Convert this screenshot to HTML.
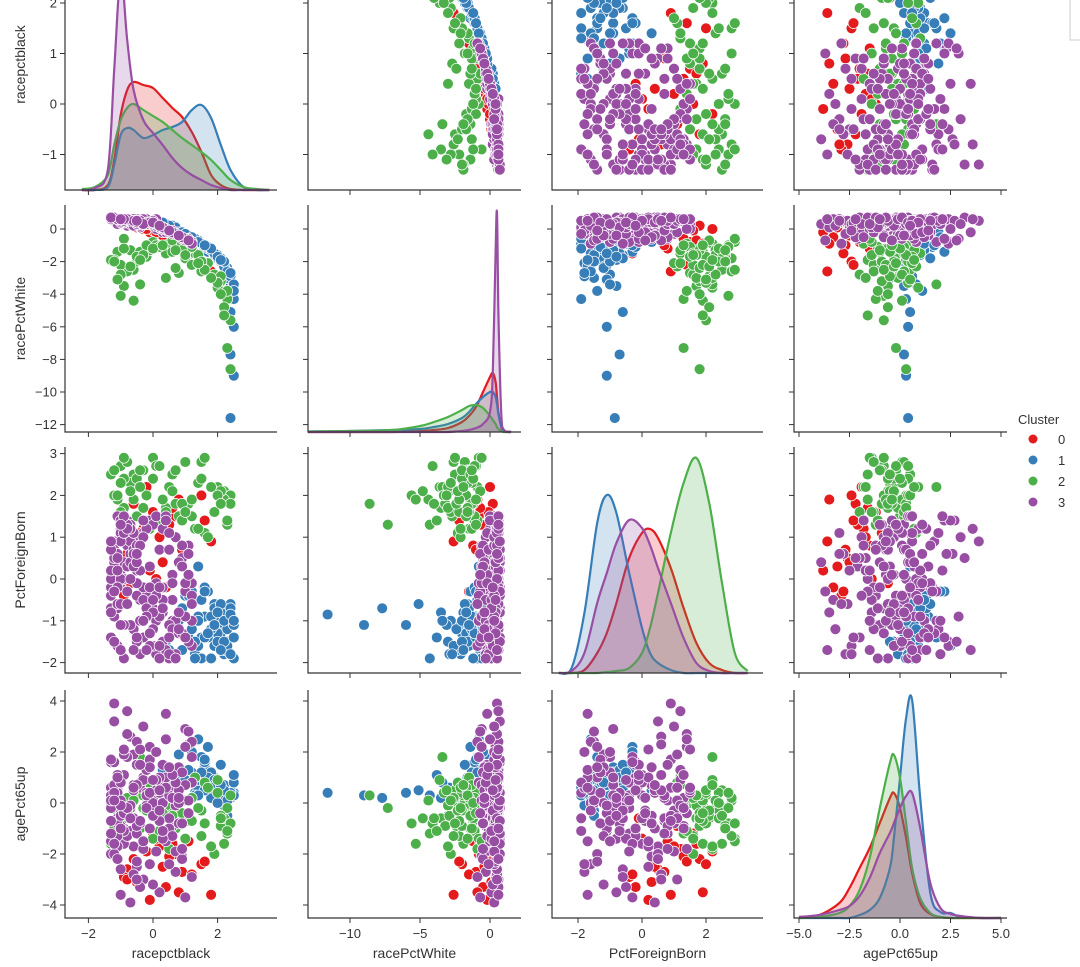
<!DOCTYPE html>
<html><head><meta charset="utf-8"><style>
html,body{margin:0;padding:0;background:#fff;}
svg{display:block;font-family:"Liberation Sans","DejaVu Sans",sans-serif;}
</style></head><body>
<svg id="chart" width="1080" height="967" viewBox="0 0 1080 967" xmlns="http://www.w3.org/2000/svg">
<rect x="1070" y="-2" width="20" height="42" fill="#fff" stroke="#ccc"/>
<g id="layer"></g>
</svg>
<script>
// ---- data ----
const varNames = ["racepctblack","racePctWhite","PctForeignBorn","agePct65up"];
const clusterLabels = ["0","1","2","3"];
const clusterColors = ["#e41a1c","#377eb8","#4daf4a","#984ea3"];

const c0_black = [-0.8,-0.3,0.4,-0.6,1.1,-0.1,0.7,-0.9,0.2,1.5,-0.5,0.0,0.9,-0.7,0.5,1.8,-0.2,0.3,-0.4,1.2,0.6,-0.8,1.6,0.1,0.8];
const c0_white = [0.3,0.0,-0.5,0.2,-1.2,-0.2,-0.8,0.4,-0.3,-2.0,0.1,-0.1,-1.0,0.3,-0.6,-2.6,0.0,-0.4,0.1,-1.5,-0.7,0.4,-2.2,-0.2,-0.9];
const c0_foreign = [0.5,1.2,-0.2,1.8,0.8,0.2,1.5,-0.4,1.0,2.0,0.3,1.6,0.7,-0.1,1.3,0.9,2.2,0.4,1.1,-0.3,1.7,0.6,1.4,0.0,1.9];
const c0_age = [-2.6,-1.8,-3.3,-2.2,-1.5,-3.8,-2.0,-2.9,-1.7,-2.4,-3.1,-1.2,-2.7,-0.6,-2.1,-3.6,-1.9,-2.5,-0.9,-2.8,-1.6,-3.0,-2.3,-1.4,-3.5];

const c1_black = [1.8,2.3,1.2,0.6,2.0,1.5,2.4,0.9,1.7,2.2,1.3,1.9,0.4,2.1,1.6,2.5,1.0,1.4,2.3,0.7,1.9,2.2,1.1,1.6,2.4,0.5,1.8,2.0,1.3,2.4,0.8,1.5,2.1,1.7,2.3,1.2,2.5,1.9,0.3,1.4,2.2,2.4,2.5,2.4,2.3,
  2.0,1.4,2.4,1.1,1.8,2.2,0.9,1.6,2.5,1.3,2.1,1.7,2.3,1.0,1.9,2.4,1.5,2.2,1.2,2.0,1.8,2.5,1.4,2.1,1.6];
const c1_white = [-1.2,-2.5,-0.6,0.2,-1.8,-0.9,-3.5,-0.3,-1.4,-2.2,-0.7,-1.6,0.3,-2.0,-1.0,-4.3,-0.5,-0.8,-2.8,0.1,-1.5,-2.1,-0.4,-1.1,-3.1,0.2,-1.3,-1.7,-0.6,-5.1,-0.2,-0.9,-1.9,-1.2,-2.4,-0.5,-6.0,-1.5,0.4,-0.8,-2.0,-7.7,-9.0,-11.6,-3.0,
  -1.6,-0.7,-2.9,-0.4,-1.3,-2.3,-0.2,-1.0,-3.4,-0.6,-1.8,-1.1,-2.6,-0.3,-1.5,-2.7,-0.9,-2.0,-0.5,-1.7,-1.2,-3.8,-0.8,-1.9,-1.0];
const c1_foreign = [-1.2,-1.6,-0.5,-1.9,-1.0,-1.4,-0.8,-1.7,-0.3,-1.1,-1.8,-0.6,-1.5,-1.3,-0.9,-1.9,-0.4,-1.6,-1.0,-1.2,-0.7,-1.8,-1.4,-0.2,-1.1,-1.7,-0.9,-1.3,-1.5,-0.6,-1.0,-1.9,-0.8,-1.4,-1.2,-0.3,-1.1,-1.6,-0.7,0.3,-1.0,-0.7,-1.1,-0.85,-1.5,
  -1.5,-0.9,-1.8,-0.4,-1.2,-1.7,-0.7,-1.4,-1.0,-1.9,-0.6,-1.3,-1.6,-0.9,-1.1,-1.8,-0.5,-1.5,-1.2,-0.8,-1.9,-1.4,-1.0,-1.7,-0.3];
const c1_age = [0.6,0.3,1.2,0.8,0.5,1.8,0.2,0.9,2.2,0.7,0.4,1.0,-0.3,0.6,1.4,0.3,0.8,2.5,0.5,1.1,0.7,-0.1,0.9,1.6,0.4,0.6,1.2,0.2,0.8,0.5,1.9,0.7,0.3,1.0,0.6,2.0,0.4,0.9,1.3,0.5,0.1,0.2,0.3,0.4,-0.5,
  0.4,0.9,0.6,1.3,0.2,0.7,1.0,0.5,0.8,0.3,1.5,0.6,0.1,0.9,0.7,0.4,1.2,0.5,0.8,0.0,0.6,1.1,0.3,0.7,1.7];

const c2_black = [-1.1,-0.6,0.2,1.0,-0.9,0.5,1.6,-0.3,2.1,-1.2,0.0,0.8,-0.7,1.3,-1.0,0.3,1.9,-0.5,0.6,2.3,-0.8,1.1,-0.2,1.7,-1.3,0.4,2.0,-0.4,0.9,-0.6,1.4,-1.0,0.1,2.2,-0.1,0.7,1.5,-0.9,1.2,2.4,-0.4,2.3,2.2,2.4,2.1,
  -0.9,0.4,1.5,-0.2,2.0,-1.2,0.9,1.8,-0.5,0.2,1.2,-1.0,2.3,0.6,-0.3,1.6,-0.7,1.0,0.0,2.1,-1.1,0.7,1.4,-0.4,0.3];
const c2_white = [-1.4,-2.5,-1.1,-1.8,-3.5,-0.9,-2.3,-1.6,-3.2,-1.9,-0.8,-2.7,-1.3,-1.5,-4.1,-1.0,-2.8,-2.0,-0.7,-4.3,-2.6,-1.2,-1.7,-2.1,-1.9,-3.0,-3.6,-1.4,-0.9,-4.4,-1.6,-2.2,-1.0,-4.8,-1.3,-2.4,-2.0,-0.6,-1.1,-5.6,-3.4,-7.3,-5.3,-8.6,-2.9,
  -1.2,-1.5,-2.6,-1.0,-3.3,-2.0,-1.3,-3.0,-1.7,-1.1,-2.2,-2.8,-3.8,-1.4,-1.6,-2.5,-2.3,-1.6,-1.2,-4.0,-3.1,-1.3,-2.1,-1.9,-1.0];
const c2_foreign = [1.9,2.5,1.4,2.8,1.7,2.2,1.1,2.6,1.8,2.0,2.9,1.5,2.3,1.2,2.7,1.9,1.6,2.4,2.1,1.3,2.8,1.8,2.0,1.0,2.5,1.7,2.2,2.6,1.4,1.9,2.3,1.6,2.7,2.1,1.2,1.8,2.4,2.9,1.5,2.0,2.2,1.3,1.9,1.8,2.1,
  2.4,1.6,2.8,1.3,2.0,2.6,1.8,2.2,1.5,2.7,1.9,2.3,1.4,2.5,1.7,2.9,2.1,1.6,2.4,1.8,2.0,2.6,1.2,2.2,1.9];
const c2_age = [-0.3,0.5,-1.1,0.1,-0.6,-1.8,0.8,-0.2,-0.9,0.3,-1.4,0.0,-0.5,1.0,-0.8,-0.1,-2.0,0.4,-0.4,-1.2,0.2,-0.7,-0.3,0.6,-1.6,-0.1,0.9,-1.0,-0.4,0.1,-0.2,-1.3,0.4,-0.6,0.7,-0.9,-0.3,-1.5,0.2,-0.8,1.8,-0.2,-1.6,0.3,-0.5,
  -0.6,0.2,-1.3,-0.1,0.4,-0.9,-0.4,-1.7,0.6,-0.2,-0.7,0.1,-1.1,-0.5,0.3,-0.8,-0.3,-1.4,0.0,-0.6,0.5,-1.0,-0.2,0.7,-0.4];

const c3_black = [-1.2,-0.8,0.3,-1.0,-0.4,0.9,-1.3,-0.1,0.6,-0.9,-0.6,-1.1,0.1,1.2,-0.3,-1.0,0.5,-0.7,-1.2,0.0,0.8,-0.5,-1.3,-0.2,0.4,-0.9,-1.1,1.0,-0.6,0.2,-1.0,-0.3,0.7,-1.2,-0.8,0.1,-0.4,1.1,-1.3,-0.7,0.3,-1.1,-0.5,0.9,-0.2,-1.0,0.6,-0.9,-1.2,0.0,-0.8,0.5,-1.3,-0.1,-0.6,1.2,-1.0,0.2,-0.4,-1.1,0.8,-0.7,-1.2,0.4,-0.3,-0.9,1.0,-0.5,0.1,-1.3,-0.6,0.7,-1.0,-0.2,0.3,-1.1,-0.8,0.9,-0.4,-1.2,0.0,-0.9,0.5,-1.3,-0.1,1.1,-0.7,-0.3,0.6,-1.0,-0.5,0.2,-1.2,0.8,-0.8,-0.2,0.4,-1.1,1.2,-0.6,
  -1.0,-0.2,0.6,-1.3,0.1,-0.7,1.0,-0.5,-1.1,0.3,-0.9,0.8,-0.4,-1.2,0.0,0.5,-0.8,1.2,-0.3,-1.0,0.2,-0.6,-1.3,0.7,-0.1,-0.9,0.4,-1.1,1.1,-0.5,-0.2,-1.2,0.9,-0.7,0.1,-1.0,0.6,-0.4,-1.3,0.3,-0.8,1.0,-0.1,-0.6,0.5,-1.1,0.0,-0.3,0.8,-1.2,-0.5,0.2,-0.9,1.2,-0.2,-1.3,0.7,-0.7,0.4,-1.0,0.1,-0.4,-1.2,0.9,-0.8,0.3,-0.1,-1.1,0.6,-0.6,1.1,-0.9,-0.3,0.0,-1.3,0.5,-0.5,0.8,-1.0,0.2];
const c3_white = [0.6,0.3,-0.2,0.5,0.1,-0.6,0.7,0.4,-0.3,0.6,0.2,0.5,0.0,-0.8,0.6,0.4,-0.1,0.3,0.7,0.5,-0.4,0.2,0.6,0.4,-0.2,0.5,0.3,-0.7,0.6,0.1,0.4,0.6,-0.3,0.5,0.2,0.4,0.6,-0.6,0.7,0.3,0.0,0.5,0.6,-0.5,0.3,0.6,-0.1,0.4,0.5,0.2,0.6,-0.2,0.7,0.3,0.5,-0.8,0.4,0.1,0.6,0.5,-0.4,0.3,0.6,0.0,0.5,0.4,-0.6,0.2,0.6,0.7,0.4,-0.3,0.5,0.6,0.1,0.3,0.6,-0.5,0.2,0.7,0.5,0.4,-0.1,0.6,0.3,-0.7,0.5,0.6,-0.2,0.4,0.6,0.1,0.7,-0.4,0.5,0.3,0.0,0.6,-0.8,0.2,
  0.5,0.4,-0.3,0.7,0.3,0.5,-0.6,0.4,0.6,0.1,0.5,-0.4,0.3,0.7,0.2,-0.1,0.6,-0.9,0.4,0.5,0.2,0.6,0.7,-0.3,0.4,0.5,0.0,0.6,-0.7,0.3,0.4,0.7,-0.5,0.5,0.2,0.6,-0.2,0.4,0.7,0.1,0.6,-0.6,0.3,0.5,-0.1,0.6,0.4,0.3,-0.4,0.7,0.4,0.2,0.5,-0.9,0.3,0.7,-0.3,0.5,0.0,0.6,0.3,0.5,0.7,-0.5,0.6,0.1,0.4,0.6,-0.2,0.5,-0.7,0.6,0.3,0.4,0.7,-0.1,0.5,-0.4,0.6,0.2];
const c3_foreign = [-1.5,0.8,-0.2,1.2,-1.8,0.3,-0.7,1.4,-1.1,0.0,0.5,-1.6,-0.4,-1.0,1.1,-0.1,-1.9,0.6,-0.8,1.3,-1.3,0.2,0.9,-0.6,-1.7,0.4,1.5,-0.3,-1.2,0.7,0.1,-1.4,1.0,-0.9,0.3,-1.8,-0.5,0.8,-0.2,-1.1,1.2,-0.7,-1.5,0.5,-0.4,1.4,-1.0,0.0,0.9,-1.6,-0.3,1.1,-0.8,-1.3,0.6,-0.1,1.3,-1.9,0.2,-0.6,-1.2,0.4,0.7,-1.7,-0.2,1.0,-0.9,-0.4,1.5,-1.4,0.3,-1.0,-0.6,1.2,-1.5,0.1,-0.3,0.8,-1.8,0.5,-0.7,1.3,-1.1,0.0,-1.6,0.6,0.9,-0.5,-1.2,1.1,-0.1,-0.8,0.4,-1.3,1.4,-0.9,-1.7,0.2,-0.4,0.7,
  0.9,-1.7,-0.5,0.2,-1.0,1.3,-0.1,-1.4,0.6,-0.8,-1.9,0.4,1.0,-0.3,-1.2,0.7,-0.6,-1.6,1.4,0.0,-0.9,1.1,-0.4,-1.8,0.3,-1.1,1.5,-0.2,-1.5,0.8,-0.7,0.5,-1.3,1.2,-0.1,-1.7,0.1,-1.0,0.9,-0.5,1.3,-1.4,-0.2,0.6,-1.8,0.2,-0.8,1.0,-1.2,-0.3,0.4,-1.6,1.1,-0.6,-0.9,0.7,-1.9,0.0,1.4,-1.1,-0.4,0.8,-1.5,0.3,1.2,-0.7,-1.3,0.5,-0.1,-1.7,0.1,1.5,-1.0,-0.5,0.9,-1.4,0.6,-0.8,1.3,-0.2];
const c3_age = [0.3,-1.2,1.5,-0.4,0.8,-2.1,0.0,2.2,-0.9,1.1,-1.7,0.5,-0.2,1.8,-3.0,0.9,-0.6,2.6,-1.4,0.2,1.3,-2.5,0.6,-0.1,3.5,-1.0,0.4,-3.7,1.9,-0.7,-0.3,1.0,-1.9,0.7,-0.5,2.0,-3.3,0.1,1.6,-1.1,0.9,-0.8,2.4,-2.2,0.3,-0.4,1.2,-1.6,3.9,0.0,-1.3,0.6,-0.2,1.7,-2.8,0.8,-0.9,0.4,2.1,-0.6,1.4,-3.9,0.2,-1.5,1.0,-0.3,2.9,-1.2,0.5,-2.0,0.7,-0.1,-2.6,1.3,0.0,-0.7,1.8,-1.8,0.6,3.2,-0.4,1.1,-1.0,0.3,-2.4,2.3,-0.5,0.9,-1.3,0.1,1.5,-3.5,0.4,-0.8,2.7,-0.2,1.0,-1.7,0.8,-0.6,
  -0.5,1.3,0.2,-1.5,2.0,-0.2,0.7,-2.3,1.1,0.0,-1.1,0.5,-0.8,1.6,-3.2,0.3,-0.3,2.4,-1.8,0.8,1.0,-0.6,0.1,-2.7,1.4,-0.4,0.6,-1.3,2.8,-0.9,0.4,-2.0,1.2,-0.1,0.9,-3.6,0.2,-0.7,1.7,-1.4,-0.2,2.2,-1.0,0.5,-2.4,1.0,-0.5,3.0,0.0,-1.6,0.7,-0.3,1.9,-2.9,0.3,-1.2,0.8,-0.6,2.5,-0.1,-1.9,1.5,0.1,-0.8,3.6,-1.1,0.4,-2.2,1.1,0.6,-0.4,2.1,-1.5,0.9,-0.7,1.4,-3.0,0.2,-1.0,0.5];

// KDE curves (density heights, arbitrary units) on the diagonal
const kde_black_x = [-2.2,-1.8,-1.4,-1.2,-1.0,-0.8,-0.6,-0.3,0,0.3,0.6,0.9,1.2,1.5,1.8,2.1,2.4,2.8,3.2,3.6];
const kde_black_c0 = [0,0,5,30,75,100,108,105,102,92,82,73,58,38,15,5,1,0,0,0];
const kde_black_c1 = [0,0,3,25,55,62,60,52,55,60,63,68,80,85,72,45,20,3,0,0];
const kde_black_c2 = [1,3,15,45,70,82,86,80,74,68,60,52,45,38,30,20,10,3,1,0];
const kde_black_c3 = [0,2,20,120,215,150,100,70,57,45,32,22,15,10,5,2,0,0,0,0];

const kde_white_x = [-13,-10,-7,-5,-4,-3,-2,-1.5,-1,-0.5,0,0.2,0.4,0.5,0.6,0.8,1.0,1.5];
const kde_white_c0 = [0,0,0,1,2,4,10,16,25,40,55,59,50,35,20,5,1,0];
const kde_white_c1 = [0.5,1,2,3,5,8,14,20,28,35,40,40,35,28,18,6,1,0];
const kde_white_c2 = [0.5,1,2,6,10,15,22,26,27,24,16,12,8,5,3,1,0,0];
const kde_white_c3 = [0,0,0,0,0,0,1,2,4,8,20,60,180,219,120,20,2,0];

const kde_foreign_x = [-2.6,-2.2,-1.8,-1.4,-1.1,-0.8,-0.4,0,0.25,0.5,0.9,1.3,1.7,2.1,2.5,2.9,3.3];
const kde_foreign_c0 = [0,0,3,20,40,70,115,140,144,135,105,65,30,10,3,0,0];
const kde_foreign_c1 = [0,5,60,150,178,160,100,45,20,10,3,0,0,0,0,0,0];
const kde_foreign_c2 = [0,0,0,0,1,2,5,20,45,80,140,190,215,170,90,20,2];
const kde_foreign_c3 = [0,2,20,70,100,130,153,145,128,105,70,35,10,2,0,0,0];

const kde_age_x = [-5,-4,-3,-2.5,-2,-1.5,-1,-0.5,-0.3,0,0.3,0.6,1,1.5,2,2.5,3,4,5];
const kde_age_c0 = [1,3,15,30,50,70,95,120,125,110,80,45,15,4,1,0,0,0,0];
const kde_age_c1 = [0,0,0,0,3,8,20,50,80,140,200,218,120,25,6,5,1,0,0];
const kde_age_c2 = [0,1,5,12,28,60,110,155,163,140,95,50,20,5,1,0,0,0,0];
const kde_age_c3 = [1,3,8,12,22,40,65,85,95,110,122,125,90,35,10,4,2,0,0];

const xTicks = [[-2,0,2],[-10,-5,0],[-2,0,2],[-5,-2.5,0,2.5,5]];
const xTickLabels = [["−2","0","2"],["−10","−5","0"],["−2","0","2"],["−5.0","−2.5","0.0","2.5","5.0"]];
const yTicks = [[-1,0,1,2],[-12,-10,-8,-6,-4,-2,0],[-2,-1,0,1,2,3],[-4,-2,0,2,4]];
const yTickLabels = [["−1","0","1","2"],["−12","−10","−8","−6","−4","−2","0"],["−2","−1","0","1","2","3"],["−4","−2","0","2","4"]];

// ---- layout ----
const cols = [{o:153,s:32.3,l:65,r:277},{o:490,s:14,l:308,r:521},{o:642,s:32,l:552,r:763},{o:900,s:20.2,l:794,r:1007}];
const rows = [{o:104,s:50.5,t:-37,b:190},{o:229,s:16.3,t:205,b:432},{o:579,s:41.8,t:447,b:673},{o:803,s:25.5,t:690,b:918}];
const X = (c,v)=>cols[c].o + v*cols[c].s;
const Y = (r,v)=>rows[r].o - v*rows[r].s;

const clusters = [
  [c0_black,c0_white,c0_foreign,c0_age],
  [c1_black,c1_white,c1_foreign,c1_age],
  [c2_black,c2_white,c2_foreign,c2_age],
  [c3_black,c3_white,c3_foreign,c3_age]
];
const kdeX = [kde_black_x,kde_white_x,kde_foreign_x,kde_age_x];
const kdeY = [
  [kde_black_c0,kde_black_c1,kde_black_c2,kde_black_c3],
  [kde_white_c0,kde_white_c1,kde_white_c2,kde_white_c3],
  [kde_foreign_c0,kde_foreign_c1,kde_foreign_c2,kde_foreign_c3],
  [kde_age_c0,kde_age_c1,kde_age_c2,kde_age_c3]
];

const NS = "http://www.w3.org/2000/svg";
const layer = document.getElementById("layer");
function mk(tag, attrs, parent){
  const e = document.createElementNS(NS, tag);
  for (const k in attrs) e.setAttribute(k, attrs[k]);
  (parent||layer).appendChild(e);
  return e;
}
function smoothPath(pts){
  let d = "M"+pts[0][0].toFixed(1)+","+pts[0][1].toFixed(1);
  for (let i=0;i<pts.length-1;i++){
    const p0 = pts[Math.max(0,i-1)], p1 = pts[i], p2 = pts[i+1], p3 = pts[Math.min(pts.length-1,i+2)];
    const c1x = p1[0]+(p2[0]-p0[0])/6, c1y = p1[1]+(p2[1]-p0[1])/6;
    const c2x = p2[0]-(p3[0]-p1[0])/6, c2y = p2[1]-(p3[1]-p1[1])/6;
    d += " C"+c1x.toFixed(1)+","+Math.min(c1y,rows[3].b+999).toFixed(1)+" "+c2x.toFixed(1)+","+c2y.toFixed(1)+" "+p2[0].toFixed(1)+","+p2[1].toFixed(1);
  }
  return d;
}
const shortNames = ["black","white","foreign","age"];

for (let r=0;r<4;r++){
  for (let c=0;c<4;c++){
    const g = mk("g",{});
    
    
    if (r===c){
      const xs = kdeX[c];
      for (let k=0;k<4;k++){
        const ys = kdeY[r][k];
        const pts = xs.map((x,i)=>[X(c,x), Math.min(rows[r].b, rows[r].b - ys[i])]);
        const line = smoothPath(pts);
        const d = line + " L"+pts[pts.length-1][0].toFixed(1)+","+rows[r].b+" L"+pts[0][0].toFixed(1)+","+rows[r].b+" Z";
        const a = mk("path",{d:d,fill:clusterColors[k],"fill-opacity":0.22,stroke:"none"},g);
        
        
        const l = mk("path",{d:line,fill:"none",stroke:clusterColors[k],"stroke-width":2.2,"stroke-linejoin":"round"},g);
        
        
      }
    } else {
      for (let k=0;k<4;k++){
        const xv = clusters[k][c], yv = clusters[k][r];
        for (let i=0;i<xv.length;i++){
          const p = mk("circle",{cx:X(c,xv[i]).toFixed(1),cy:Y(r,yv[i]).toFixed(1),r:5.4,fill:clusterColors[k],stroke:"#fff","stroke-width":0.7},g);
          
          
        }
      }
    }
    const sp = mk("path",{d:"M"+cols[c].l+","+rows[r].t+" V"+rows[r].b+" H"+cols[c].r,fill:"none",stroke:"#333","stroke-width":1.2},g);
    
    
    xTicks[c].forEach((t,i)=>{
      const tx = X(c,t);
      const tk = mk("line",{x1:tx,x2:tx,y1:rows[r].b,y2:rows[r].b+5,stroke:"#333","stroke-width":1},g);
      
      
      if (r===3){
        const tl = mk("text",{x:tx,y:rows[r].b+20,"text-anchor":"middle","font-size":13,fill:"#333"},g);
        tl.textContent = xTickLabels[c][i];
        
        
      }
    });
    yTicks[r].forEach((t,i)=>{
      const ty = Y(r,t);
      const tk = mk("line",{x1:cols[c].l-5,x2:cols[c].l,y1:ty,y2:ty,stroke:"#333","stroke-width":1},g);
      
      
      if (c===0){
        const tl = mk("text",{x:cols[c].l-8,y:ty+4.5,"text-anchor":"end","font-size":13,fill:"#333"},g);
        tl.textContent = yTickLabels[r][i];
        
        
      }
    });
  }
}
for (let i=0;i<4;i++){
  const cx = (cols[i].l+cols[i].r)/2;
  const xt = mk("text",{x:cx,y:958,"text-anchor":"middle","font-size":14,fill:"#333"});
  xt.textContent = varNames[i];
  
  
  const cy = (Math.max(rows[i].t,-37)+rows[i].b)/2 + (i===0?-12:0);
  const yt = mk("text",{x:0,y:0,"text-anchor":"middle","font-size":14,fill:"#333",transform:"translate(25,"+cy+") rotate(-90)"});
  yt.textContent = varNames[i];
  
  
}
const lg = mk("g",{});


const lt = mk("text",{x:1018,y:424,"font-size":13,fill:"#333"},lg);
lt.textContent = "Cluster";


clusterLabels.forEach((lab,k)=>{
  const y = 439 + k*21;
  const d = mk("circle",{cx:1033,cy:y,r:4.5,fill:clusterColors[k]},lg);
  
  
  const t = mk("text",{x:1058,y:y+5,"font-size":13,fill:"#333"},lg);
  t.textContent = lab;
  
  
});
</script>
</body></html>
